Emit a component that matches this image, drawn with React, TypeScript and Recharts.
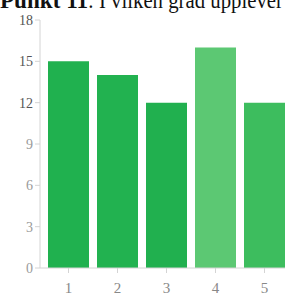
import React from "react";
import { BarChart, Bar, XAxis, YAxis, Cell } from "recharts";

const categories = ["1", "2", "3", "4", "5"];
const values = [15, 14, 12, 16, 12];
const barColors = ["#20b14f", "#22b250", "#21b04f", "#5cc873", "#3dbd5e"];
const yTicks = [0, 3, 6, 9, 12, 15, 18];
const titleBold = "Punkt 11";
const titleRest = ": I vilken grad upplever";

const data = categories.map((c, i) => ({ name: c, value: values[i] }));

const tickColor = (v: number) => (v >= 12 ? "#555" : "#9a9a9a");

const YTick = (props: any) => {
  const { x, y, payload } = props;
  return (
    <text
      x={x}
      y={y}
      dy="0.35em"
      textAnchor="end"
      fontFamily="Liberation Serif"
      fontSize={14}
      fill={tickColor(payload.value)}
    >
      {payload.value}
    </text>
  );
};

export default function App() {
  return (
    <div
      style={{
        position: "fixed",
        left: 0,
        top: 0,
        width: 285,
        height: 296,
        overflow: "hidden",
        background: "#fff",
      }}
    >
      <BarChart
        width={289}
        height={296}
        data={data}
        margin={{ top: 20, right: 0, bottom: 0, left: 0 }}
        barCategoryGap={4}
      >
        <XAxis
          dataKey="name"
          height={28}
          padding={{ left: 4, right: 0 }}
          stroke="#d4d4d4"
          tickSize={5}
          tickMargin={9}
          tick={{ fill: "#888", fontSize: 15, fontFamily: "Liberation Serif" }}
        />
        <YAxis
          width={40}
          domain={[0, 18]}
          ticks={yTicks}
          interval={0}
          stroke="#d4d4d4"
          tickSize={5}
          tickMargin={2}
          tick={<YTick />}
        />
        <Bar dataKey="value" isAnimationActive={false}>
          {data.map((d, i) => (
            <Cell key={d.name} fill={barColors[i]} />
          ))}
        </Bar>
      </BarChart>
      <svg
        width={285}
        height={20}
        style={{ position: "absolute", left: 0, top: 0 }}
      >
        <text
          x={0}
          y={8}
          fontFamily="Liberation Serif"
          fontWeight="bold"
          fontSize={23}
          fill="#111"
          textLength={88}
          lengthAdjust="spacingAndGlyphs"
        >
          {titleBold}
        </text>
        <text
          x={88}
          y={8}
          fontFamily="Liberation Serif"
          fontSize={23}
          fill="#111"
          textLength={195}
          lengthAdjust="spacingAndGlyphs"
        >
          {titleRest}
        </text>
      </svg>
    </div>
  );
}
